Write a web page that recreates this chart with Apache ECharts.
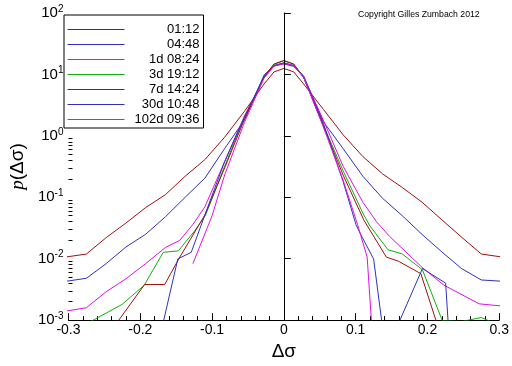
<!DOCTYPE html>
<html>
<head>
<meta charset="utf-8">
<script src="https://cdn.jsdelivr.net/npm/echarts@6/dist/echarts.min.js"></script>
<style>html,body{margin:0;padding:0;background:#fff}#c{width:512px;height:366px}</style>
</head>
<body>
<div id="c"></div>
<script>
// Series names (legend)
const seriesNames = ['01:12', '04:48', '1d 08:24', '3d 19:12', '7d 14:24', '30d 10:48', '102d 09:36'];
// [delta sigma, p(delta sigma)] pairs
const s0112 = [[-0.3025,0.0107],[-0.275,0.0119],[-0.2475,0.022],[-0.22,0.038],[-0.1925,0.068],[-0.165,0.11],[-0.1375,0.22],[-0.11,0.41],[-0.0825,0.95],[-0.055,2.5],[-0.0275,7.0],[-0.01375,11.0],[0,12.5],[0.01375,11.0],[0.0275,7.0],[0.055,2.7],[0.0825,1.04],[0.11,0.46],[0.1375,0.24],[0.165,0.144],[0.1925,0.083],[0.22,0.043],[0.2475,0.0224],[0.275,0.0119],[0.3025,0.0107]];
const s0448 = [[-0.3025,0.0043],[-0.275,0.0048],[-0.2475,0.0083],[-0.22,0.0155],[-0.1925,0.025],[-0.165,0.048],[-0.1375,0.10],[-0.11,0.205],[-0.0825,0.62],[-0.055,1.8],[-0.0275,9.8],[-0.01375,13.8],[0,14.8],[0.01375,13.5],[0.0275,9.5],[0.055,1.7],[0.0825,0.62],[0.11,0.22],[0.1375,0.096],[0.165,0.05],[0.1925,0.0248],[0.22,0.0129],[0.2475,0.0069],[0.275,0.0045],[0.3025,0.0043]];
const s1d = [[-0.3025,0.00141],[-0.275,0.00159],[-0.2475,0.0029],[-0.22,0.0047],[-0.1925,0.0083],[-0.165,0.0152],[-0.145,0.0199],[-0.127,0.0357],[-0.11,0.07],[-0.0825,0.38],[-0.055,2.1],[-0.0275,9.0],[-0.01375,13.9],[0,15.5],[0.01375,13.9],[0.0275,9.0],[0.055,1.8],[0.0825,0.32],[0.11,0.083],[0.129,0.040],[0.147,0.0232],[0.192,0.0073],[0.223,0.0037],[0.272,0.00184],[0.3025,0.0017]];
const s3d = [[-0.275,0.00087],[-0.2253,0.0018],[-0.1945,0.0037],[-0.168,0.0127],[-0.147,0.0134],[-0.1246,0.028],[-0.109,0.0515],[-0.0825,0.32],[-0.055,2.0],[-0.0275,9.2],[-0.01375,14.5],[0,16.7],[0.01375,14.5],[0.0275,9.0],[0.055,1.5],[0.0825,0.27],[0.11,0.055],[0.12,0.034],[0.145,0.014],[0.165,0.0119],[0.193,0.0066],[0.2206,0.00098],[0.2475,0.00095],[0.275,0.0011],[0.3025,0.0008]];
const s7d = [[-0.2475,0.00052],[-0.194,0.0038],[-0.166,0.0038],[-0.146,0.0101],[-0.11,0.0515],[-0.0825,0.30],[-0.055,1.85],[-0.0275,9.2],[-0.01375,14.8],[0,16.9],[0.01375,14.8],[0.0275,9.0],[0.055,1.45],[0.0825,0.23],[0.1116,0.042],[0.1428,0.0106],[0.1595,0.0091],[0.1908,0.0057],[0.22,0.0005]];
const s30d = [[-0.168,0.00092],[-0.1477,0.0099],[-0.129,0.0127],[-0.11,0.0515],[-0.0825,0.38],[-0.055,2.0],[-0.0275,9.2],[-0.01375,13.9],[0,15.4],[0.01375,13.9],[0.0275,9.0],[0.055,1.6],[0.0825,0.18],[0.1005,0.0357],[0.107,0.0248],[0.125,0.0099],[0.145,0.00016],[0.16,0.0009],[0.193,0.0069],[0.2253,0.004],[0.245,0.000001]];
const s102d = [[-0.1267,0.0083],[-0.1,0.05],[-0.0825,0.23],[-0.055,1.65],[-0.0275,8.7],[-0.01375,13.6],[0,15.0],[0.01375,13.9],[0.0275,9.0],[0.055,1.39],[0.0825,0.19],[0.1027,0.0357],[0.116,0.0106],[0.135,0.000005]];
// Axis ticks
const xTicks = [-0.3, -0.2, -0.1, 0, 0.1, 0.2, 0.3];
const yMajor = [0.001, 0.01, 0.1, 1, 10, 100];
const yMinorMult = [2, 3, 4, 5, 6, 7, 8, 9];

const colors = ['#a01010', '#3030c0', '#e010e0', '#10b010', '#a01010', '#3030c0', '#e010e0'];
const allData = [s0112, s0448, s1d, s3d, s7d, s30d, s102d];
const yMinor = [];
yMajor.slice(0, -1).forEach(d => yMinorMult.forEach(m => yMinor.push(+(d * m).toPrecision(3))));

const FONT = 'Liberation Sans';
const chart = echarts.init(document.getElementById('c'), null, {renderer: 'canvas'});
const series = allData.map((d, i) => ({
  name: seriesNames[i],
  type: 'line',
  data: d,
  symbol: 'none',
  clip: true,
  lineStyle: {width: 1, color: colors[i]},
  itemStyle: {color: colors[i]},
  z: 2 + i,
  animation: false
}));
series[0].markLine = {
  silent: true, symbol: 'none', animation: false,
  label: {show: false},
  lineStyle: {color: '#000', width: 1, type: 'solid'},
  data: [{xAxis: 0}],
  z: 20
};

chart.setOption({
  animation: false,
  backgroundColor: '#fff',
  textStyle: {fontFamily: FONT},
  grid: {left: 52, right: 11, top: 13, bottom: 38, containLabel: false},
  legend: {
    data: seriesNames,
    orient: 'vertical',
    left: 64, top: 15,
    itemWidth: 57, itemHeight: 13, itemGap: 2,
    padding: [8, 4, 2, 3],
    borderColor: '#000', borderWidth: 1,
    backgroundColor: '#fff',
    selectedMode: false,
    itemStyle: {opacity: 0},
    lineStyle: {width: 1},
    formatter: n => '{a|' + n + '}',
    textStyle: {fontFamily: FONT, color: '#000', fontSize: 13, lineHeight: 13,
      rich: {a: {width: 70, align: 'right', fontSize: 13, lineHeight: 13, fontFamily: FONT, color: '#000'}}}
  },
  graphic: [{
    type: 'text', left: 358, top: 10,
    style: {text: 'Copyright Gilles Zumbach 2012', fontSize: 8.7, fontFamily: FONT, fill: '#000'}
  }],
  xAxis: {
    type: 'value', min: -0.3, max: 0.3, interval: 0.1,
    name: 'Δσ', nameLocation: 'middle', nameGap: 21,
    nameTextStyle: {fontSize: 19, color: '#000', fontFamily: FONT},
    axisLine: {lineStyle: {color: '#000', width: 1}},
    axisTick: {inside: true, length: 7, lineStyle: {color: '#000'}},
    minorTick: {show: true, splitNumber: 5, length: 4, lineStyle: {color: '#000'}},
    splitLine: {show: false}, minorSplitLine: {show: false},
    axisLabel: {color: '#000', fontSize: 14, margin: 3, fontFamily: FONT,
      formatter: v => { const t = xTicks.find(x => Math.abs(x - v) < 1e-9); return t === 0 ? '0' : t.toFixed(1); }}
  },
  yAxis: [{
    type: 'log', logBase: 10, min: 0.001, max: 100, position: 'left',
    name: '{i|p}(Δσ)', nameLocation: 'middle', nameGap: 35, nameRotate: 90,
    nameTextStyle: {fontSize: 19, color: '#000', fontFamily: FONT,
      rich: {i: {fontStyle: 'italic', fontSize: 19, fontFamily: 'Liberation Serif', color: '#000'}}},
    axisLine: {show: true, lineStyle: {color: '#000', width: 1}},
    axisTick: {show: true, inside: true, length: 7, lineStyle: {color: '#000'}, customValues: yMajor},
    splitLine: {show: false},
    axisLabel: {color: '#000', margin: 5, customValues: yMajor,
      formatter: v => '{b|10}{e|' + Math.round(Math.log10(v)) + '}',
      rich: {b: {fontSize: 15, fontFamily: FONT, color: '#000', lineHeight: 18},
             e: {fontSize: 10, fontFamily: FONT, color: '#000', verticalAlign: 'top', lineHeight: 18, padding: [0, 0, 8, 0]}}}
  }, {
    type: 'log', logBase: 10, min: 0.001, max: 100, position: 'left',
    axisLine: {show: false},
    axisTick: {show: true, inside: true, length: 4, lineStyle: {color: '#000'}, customValues: yMinor},
    axisLabel: {show: false},
    splitLine: {show: false}
  }],
  series: series
});
</script>
</body>
</html>
